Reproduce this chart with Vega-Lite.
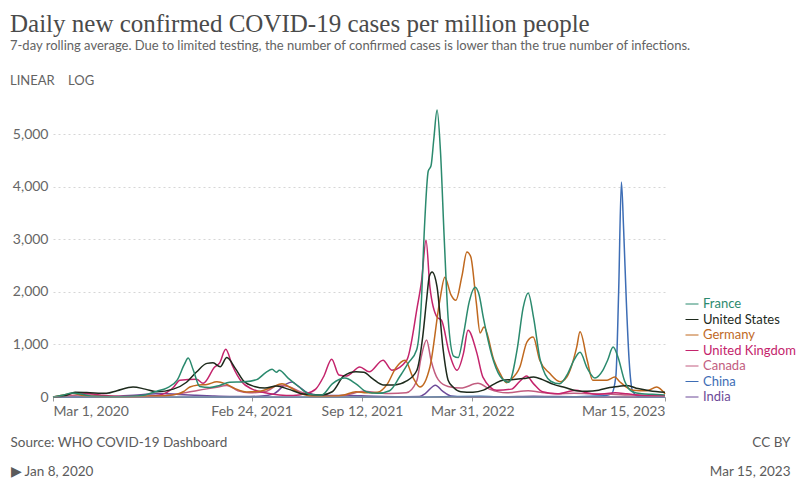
{
  "$schema": "https://vega.github.io/schema/vega-lite/v6.json",
  "width": 612,
  "height": 289,
  "autosize": "none",
  "padding": {"left": 53, "top": 108, "right": 135, "bottom": 88},
  "background": "white",
  "config": {"view": {"stroke": null}, "font": "Lato"},
  "title": {
    "text": "Daily new confirmed COVID-19 cases per million people",
    "subtitle": ["7-day rolling average. Due to limited testing, the number of confirmed cases is lower than the true number of infections.", "\u00a0\u00a0LINEAR\u00a0\u00a0\u00a0\u00a0LOG"],
    "anchor": "start",
    "frame": "group",
    "dx": -43,
    "offset": 19,
    "font": "Liberation Serif",
    "fontSize": 25,
    "fontWeight": "normal",
    "color": "#4a4a4a",
    "subtitleFont": "Lato",
    "subtitleFontSize": 13,
    "subtitleColor": "#636363",
    "subtitlePadding": 3,
    "subtitleLineHeight": 35
  },
  "data": {"values": [
    {"country":"India","date":"2020-03-01","cases":0},{"country":"India","date":"2020-05-01","cases":1},{"country":"India","date":"2020-06-15","cases":8},{"country":"India","date":"2020-08-01","cases":38},{"country":"India","date":"2020-09-16","cases":68},{"country":"India","date":"2020-10-15","cases":48},{"country":"India","date":"2020-11-15","cases":32},{"country":"India","date":"2020-12-15","cases":20},{"country":"India","date":"2021-01-15","cases":11},{"country":"India","date":"2021-02-10","cases":9},{"country":"India","date":"2021-03-10","cases":15},{"country":"India","date":"2021-04-05","cases":60},{"country":"India","date":"2021-04-25","cases":230},{"country":"India","date":"2021-05-08","cases":285},{"country":"India","date":"2021-05-20","cases":200},{"country":"India","date":"2021-06-05","cases":80},{"country":"India","date":"2021-06-25","cases":35},{"country":"India","date":"2021-07-20","cases":28},{"country":"India","date":"2021-08-20","cases":28},{"country":"India","date":"2021-09-20","cases":20},{"country":"India","date":"2021-10-20","cases":11},{"country":"India","date":"2021-12-01","cases":6},{"country":"India","date":"2021-12-25","cases":8},{"country":"India","date":"2022-01-05","cases":70},{"country":"India","date":"2022-01-23","cases":225},{"country":"India","date":"2022-02-05","cases":110},{"country":"India","date":"2022-02-20","cases":20},{"country":"India","date":"2022-03-15","cases":3},{"country":"India","date":"2022-05-01","cases":2},{"country":"India","date":"2022-06-01","cases":5},{"country":"India","date":"2022-07-20","cases":14},{"country":"India","date":"2022-08-20","cases":9},{"country":"India","date":"2022-10-01","cases":3},{"country":"India","date":"2022-12-01","cases":0.3},{"country":"India","date":"2023-03-15","cases":0.5},
    {"country":"China","date":"2020-03-01","cases":0.4},{"country":"China","date":"2020-04-01","cases":0.1},{"country":"China","date":"2020-07-01","cases":0.05},{"country":"China","date":"2021-01-15","cases":0.1},{"country":"China","date":"2021-08-05","cases":0.1},{"country":"China","date":"2022-01-01","cases":0.2},{"country":"China","date":"2022-04-15","cases":15},{"country":"China","date":"2022-05-15","cases":2},{"country":"China","date":"2022-08-15","cases":2},{"country":"China","date":"2022-11-25","cases":25},{"country":"China","date":"2022-12-08","cases":60},{"country":"China","date":"2022-12-16","cases":400},{"country":"China","date":"2022-12-21","cases":2000},{"country":"China","date":"2022-12-26","cases":4090},{"country":"China","date":"2022-12-30","cases":3200},{"country":"China","date":"2023-01-04","cases":1800},{"country":"China","date":"2023-01-09","cases":700},{"country":"China","date":"2023-01-15","cases":120},{"country":"China","date":"2023-01-25","cases":15},{"country":"China","date":"2023-02-15","cases":3},{"country":"China","date":"2023-03-15","cases":1},
    {"country":"Canada","date":"2020-03-01","cases":0},{"country":"Canada","date":"2020-04-01","cases":25},{"country":"Canada","date":"2020-04-25","cases":45},{"country":"Canada","date":"2020-05-20","cases":30},{"country":"Canada","date":"2020-06-20","cases":10},{"country":"Canada","date":"2020-08-01","cases":10},{"country":"Canada","date":"2020-09-15","cases":20},{"country":"Canada","date":"2020-10-15","cases":60},{"country":"Canada","date":"2020-11-20","cases":130},{"country":"Canada","date":"2020-12-20","cases":180},{"country":"Canada","date":"2021-01-10","cases":220},{"country":"Canada","date":"2021-01-30","cases":120},{"country":"Canada","date":"2021-02-20","cases":80},{"country":"Canada","date":"2021-03-20","cases":100},{"country":"Canada","date":"2021-04-15","cases":230},{"country":"Canada","date":"2021-05-01","cases":200},{"country":"Canada","date":"2021-05-25","cases":90},{"country":"Canada","date":"2021-06-20","cases":25},{"country":"Canada","date":"2021-07-15","cases":12},{"country":"Canada","date":"2021-08-15","cases":40},{"country":"Canada","date":"2021-09-15","cases":110},{"country":"Canada","date":"2021-10-10","cases":80},{"country":"Canada","date":"2021-11-01","cases":65},{"country":"Canada","date":"2021-12-01","cases":80},{"country":"Canada","date":"2021-12-20","cases":300},{"country":"Canada","date":"2021-12-28","cases":750},{"country":"Canada","date":"2022-01-07","cases":1085},{"country":"Canada","date":"2022-01-15","cases":700},{"country":"Canada","date":"2022-01-28","cases":330},{"country":"Canada","date":"2022-02-15","cases":200},{"country":"Canada","date":"2022-03-10","cases":170},{"country":"Canada","date":"2022-04-10","cases":260},{"country":"Canada","date":"2022-05-01","cases":150},{"country":"Canada","date":"2022-06-01","cases":80},{"country":"Canada","date":"2022-07-10","cases":120},{"country":"Canada","date":"2022-08-01","cases":90},{"country":"Canada","date":"2022-09-01","cases":60},{"country":"Canada","date":"2022-10-01","cases":70},{"country":"Canada","date":"2022-11-01","cases":60},{"country":"Canada","date":"2022-12-01","cases":55},{"country":"Canada","date":"2023-01-01","cases":40},{"country":"Canada","date":"2023-02-01","cases":35},{"country":"Canada","date":"2023-03-15","cases":25},
    {"country":"United Kingdom","date":"2020-03-01","cases":0},{"country":"United Kingdom","date":"2020-03-25","cases":40},{"country":"United Kingdom","date":"2020-04-10","cases":75},{"country":"United Kingdom","date":"2020-05-01","cases":70},{"country":"United Kingdom","date":"2020-05-25","cases":40},{"country":"United Kingdom","date":"2020-06-20","cases":15},{"country":"United Kingdom","date":"2020-07-20","cases":10},{"country":"United Kingdom","date":"2020-08-20","cases":15},{"country":"United Kingdom","date":"2020-09-15","cases":50},{"country":"United Kingdom","date":"2020-10-05","cases":180},{"country":"United Kingdom","date":"2020-10-17","cases":320},{"country":"United Kingdom","date":"2020-11-16","cases":340},{"country":"United Kingdom","date":"2020-11-28","cases":260},{"country":"United Kingdom","date":"2020-12-19","cases":570},{"country":"United Kingdom","date":"2020-12-28","cases":650},{"country":"United Kingdom","date":"2021-01-08","cases":910},{"country":"United Kingdom","date":"2021-01-20","cases":600},{"country":"United Kingdom","date":"2021-02-05","cases":300},{"country":"United Kingdom","date":"2021-02-25","cases":150},{"country":"United Kingdom","date":"2021-03-20","cases":80},{"country":"United Kingdom","date":"2021-04-15","cases":40},{"country":"United Kingdom","date":"2021-05-10","cases":30},{"country":"United Kingdom","date":"2021-06-01","cases":60},{"country":"United Kingdom","date":"2021-06-20","cases":150},{"country":"United Kingdom","date":"2021-07-05","cases":400},{"country":"United Kingdom","date":"2021-07-19","cases":720},{"country":"United Kingdom","date":"2021-08-01","cases":420},{"country":"United Kingdom","date":"2021-08-15","cases":400},{"country":"United Kingdom","date":"2021-09-08","cases":570},{"country":"United Kingdom","date":"2021-09-25","cases":480},{"country":"United Kingdom","date":"2021-10-20","cases":700},{"country":"United Kingdom","date":"2021-11-05","cases":510},{"country":"United Kingdom","date":"2021-12-02","cases":700},{"country":"United Kingdom","date":"2021-12-21","cases":1710},{"country":"United Kingdom","date":"2021-12-29","cases":2220},{"country":"United Kingdom","date":"2022-01-06","cases":2985},{"country":"United Kingdom","date":"2022-01-13","cases":2090},{"country":"United Kingdom","date":"2022-01-26","cases":1520},{"country":"United Kingdom","date":"2022-02-03","cases":1460},{"country":"United Kingdom","date":"2022-02-17","cases":840},{"country":"United Kingdom","date":"2022-03-03","cases":510},{"country":"United Kingdom","date":"2022-03-15","cases":840},{"country":"United Kingdom","date":"2022-03-23","cases":1270},{"country":"United Kingdom","date":"2022-04-08","cases":840},{"country":"United Kingdom","date":"2022-04-19","cases":380},{"country":"United Kingdom","date":"2022-05-14","cases":130},{"country":"United Kingdom","date":"2022-06-10","cases":150},{"country":"United Kingdom","date":"2022-06-25","cases":300},{"country":"United Kingdom","date":"2022-07-07","cases":400},{"country":"United Kingdom","date":"2022-07-20","cases":250},{"country":"United Kingdom","date":"2022-08-05","cases":100},{"country":"United Kingdom","date":"2022-09-01","cases":60},{"country":"United Kingdom","date":"2022-10-05","cases":130},{"country":"United Kingdom","date":"2022-10-20","cases":90},{"country":"United Kingdom","date":"2022-11-15","cases":50},{"country":"United Kingdom","date":"2022-12-15","cases":80},{"country":"United Kingdom","date":"2023-01-05","cases":60},{"country":"United Kingdom","date":"2023-02-01","cases":30},{"country":"United Kingdom","date":"2023-03-15","cases":20},
    {"country":"Germany","date":"2020-03-01","cases":0},{"country":"Germany","date":"2020-03-25","cases":50},{"country":"Germany","date":"2020-04-05","cases":70},{"country":"Germany","date":"2020-04-25","cases":25},{"country":"Germany","date":"2020-05-20","cases":8},{"country":"Germany","date":"2020-07-01","cases":5},{"country":"Germany","date":"2020-08-15","cases":15},{"country":"Germany","date":"2020-09-20","cases":25},{"country":"Germany","date":"2020-10-10","cases":50},{"country":"Germany","date":"2020-10-23","cases":100},{"country":"Germany","date":"2020-11-04","cases":190},{"country":"Germany","date":"2020-11-20","cases":230},{"country":"Germany","date":"2020-12-05","cases":240},{"country":"Germany","date":"2020-12-23","cases":290},{"country":"Germany","date":"2021-01-08","cases":250},{"country":"Germany","date":"2021-01-25","cases":160},{"country":"Germany","date":"2021-02-15","cases":95},{"country":"Germany","date":"2021-03-10","cases":110},{"country":"Germany","date":"2021-04-01","cases":180},{"country":"Germany","date":"2021-04-20","cases":250},{"country":"Germany","date":"2021-05-05","cases":180},{"country":"Germany","date":"2021-05-25","cases":60},{"country":"Germany","date":"2021-06-20","cases":8},{"country":"Germany","date":"2021-07-15","cases":12},{"country":"Germany","date":"2021-08-10","cases":40},{"country":"Germany","date":"2021-09-01","cases":100},{"country":"Germany","date":"2021-09-20","cases":80},{"country":"Germany","date":"2021-10-10","cases":90},{"country":"Germany","date":"2021-10-28","cases":250},{"country":"Germany","date":"2021-11-12","cases":550},{"country":"Germany","date":"2021-11-29","cases":700},{"country":"Germany","date":"2021-12-13","cases":380},{"country":"Germany","date":"2021-12-26","cases":190},{"country":"Germany","date":"2022-01-13","cases":570},{"country":"Germany","date":"2022-01-31","cases":1840},{"country":"Germany","date":"2022-02-09","cases":2280},{"country":"Germany","date":"2022-02-20","cases":1950},{"country":"Germany","date":"2022-03-01","cases":1840},{"country":"Germany","date":"2022-03-12","cases":2300},{"country":"Germany","date":"2022-03-21","cases":2760},{"country":"Germany","date":"2022-03-28","cases":2670},{"country":"Germany","date":"2022-04-07","cases":1800},{"country":"Germany","date":"2022-04-14","cases":1220},{"country":"Germany","date":"2022-04-21","cases":1330},{"country":"Germany","date":"2022-05-09","cases":700},{"country":"Germany","date":"2022-05-20","cases":450},{"country":"Germany","date":"2022-06-01","cases":270},{"country":"Germany","date":"2022-06-07","cases":320},{"country":"Germany","date":"2022-06-25","cases":570},{"country":"Germany","date":"2022-07-08","cases":1050},{"country":"Germany","date":"2022-07-19","cases":1140},{"country":"Germany","date":"2022-07-31","cases":700},{"country":"Germany","date":"2022-08-18","cases":450},{"country":"Germany","date":"2022-09-06","cases":290},{"country":"Germany","date":"2022-09-18","cases":380},{"country":"Germany","date":"2022-10-06","cases":950},{"country":"Germany","date":"2022-10-12","cases":1240},{"country":"Germany","date":"2022-10-25","cases":700},{"country":"Germany","date":"2022-11-04","cases":320},{"country":"Germany","date":"2022-11-30","cases":320},{"country":"Germany","date":"2022-12-14","cases":380},{"country":"Germany","date":"2022-12-23","cases":290},{"country":"Germany","date":"2023-01-16","cases":130},{"country":"Germany","date":"2023-02-10","cases":120},{"country":"Germany","date":"2023-02-28","cases":190},{"country":"Germany","date":"2023-03-15","cases":60},
    {"country":"United States","date":"2020-03-01","cases":0},{"country":"United States","date":"2020-03-25","cases":30},{"country":"United States","date":"2020-04-10","cases":90},{"country":"United States","date":"2020-05-01","cases":85},{"country":"United States","date":"2020-06-06","cases":70},{"country":"United States","date":"2020-06-25","cases":120},{"country":"United States","date":"2020-07-24","cases":190},{"country":"United States","date":"2020-08-15","cases":150},{"country":"United States","date":"2020-09-05","cases":100},{"country":"United States","date":"2020-10-05","cases":150},{"country":"United States","date":"2020-10-29","cases":280},{"country":"United States","date":"2020-11-16","cases":475},{"country":"United States","date":"2020-12-05","cases":640},{"country":"United States","date":"2020-12-16","cases":650},{"country":"United States","date":"2020-12-29","cases":575},{"country":"United States","date":"2021-01-10","cases":750},{"country":"United States","date":"2021-01-25","cases":550},{"country":"United States","date":"2021-02-10","cases":300},{"country":"United States","date":"2021-03-01","cases":200},{"country":"United States","date":"2021-03-20","cases":170},{"country":"United States","date":"2021-04-10","cases":210},{"country":"United States","date":"2021-05-01","cases":150},{"country":"United States","date":"2021-06-01","cases":50},{"country":"United States","date":"2021-07-01","cases":40},{"country":"United States","date":"2021-07-20","cases":100},{"country":"United States","date":"2021-08-10","cases":400},{"country":"United States","date":"2021-09-01","cases":480},{"country":"United States","date":"2021-09-15","cases":470},{"country":"United States","date":"2021-10-01","cases":350},{"country":"United States","date":"2021-10-20","cases":230},{"country":"United States","date":"2021-11-10","cases":230},{"country":"United States","date":"2021-12-01","cases":300},{"country":"United States","date":"2021-12-20","cases":500},{"country":"United States","date":"2021-12-31","cases":1150},{"country":"United States","date":"2022-01-07","cases":1850},{"country":"United States","date":"2022-01-12","cases":2300},{"country":"United States","date":"2022-01-17","cases":2380},{"country":"United States","date":"2022-01-26","cases":2090},{"country":"United States","date":"2022-02-06","cases":900},{"country":"United States","date":"2022-02-15","cases":320},{"country":"United States","date":"2022-02-24","cases":190},{"country":"United States","date":"2022-03-10","cases":100},{"country":"United States","date":"2022-04-01","cases":90},{"country":"United States","date":"2022-04-20","cases":130},{"country":"United States","date":"2022-05-10","cases":250},{"country":"United States","date":"2022-05-25","cases":320},{"country":"United States","date":"2022-06-10","cases":330},{"country":"United States","date":"2022-07-01","cases":350},{"country":"United States","date":"2022-07-20","cases":380},{"country":"United States","date":"2022-08-05","cases":330},{"country":"United States","date":"2022-08-25","cases":240},{"country":"United States","date":"2022-09-15","cases":180},{"country":"United States","date":"2022-10-05","cases":120},{"country":"United States","date":"2022-10-25","cases":110},{"country":"United States","date":"2022-11-15","cases":130},{"country":"United States","date":"2022-12-05","cases":180},{"country":"United States","date":"2022-12-20","cases":200},{"country":"United States","date":"2023-01-05","cases":220},{"country":"United States","date":"2023-01-25","cases":160},{"country":"United States","date":"2023-02-15","cases":120},{"country":"United States","date":"2023-03-15","cases":90},
    {"country":"France","date":"2020-03-01","cases":1},{"country":"France","date":"2020-03-20","cases":40},{"country":"France","date":"2020-04-05","cases":75},{"country":"France","date":"2020-04-20","cases":55},{"country":"France","date":"2020-05-10","cases":15},{"country":"France","date":"2020-06-15","cases":6},{"country":"France","date":"2020-07-15","cases":10},{"country":"France","date":"2020-08-15","cases":40},{"country":"France","date":"2020-09-05","cases":110},{"country":"France","date":"2020-09-23","cases":170},{"country":"France","date":"2020-10-12","cases":320},{"country":"France","date":"2020-10-25","cases":620},{"country":"France","date":"2020-11-01","cases":740},{"country":"France","date":"2020-11-10","cases":520},{"country":"France","date":"2020-11-22","cases":200},{"country":"France","date":"2020-12-10","cases":180},{"country":"France","date":"2020-12-28","cases":220},{"country":"France","date":"2021-01-15","cases":280},{"country":"France","date":"2021-02-10","cases":290},{"country":"France","date":"2021-03-05","cases":330},{"country":"France","date":"2021-03-22","cases":470},{"country":"France","date":"2021-04-02","cases":530},{"country":"France","date":"2021-04-10","cases":470},{"country":"France","date":"2021-04-15","cases":510},{"country":"France","date":"2021-05-01","cases":360},{"country":"France","date":"2021-05-20","cases":200},{"country":"France","date":"2021-06-10","cases":50},{"country":"France","date":"2021-07-01","cases":40},{"country":"France","date":"2021-07-20","cases":250},{"country":"France","date":"2021-08-12","cases":360},{"country":"France","date":"2021-09-01","cases":250},{"country":"France","date":"2021-09-20","cases":100},{"country":"France","date":"2021-10-10","cases":70},{"country":"France","date":"2021-11-01","cases":120},{"country":"France","date":"2021-11-20","cases":400},{"country":"France","date":"2021-12-05","cases":650},{"country":"France","date":"2021-12-20","cases":900},{"country":"France","date":"2021-12-28","cases":1700},{"country":"France","date":"2022-01-03","cases":3200},{"country":"France","date":"2022-01-10","cases":4300},{"country":"France","date":"2022-01-15","cases":4400},{"country":"France","date":"2022-01-20","cases":4900},{"country":"France","date":"2022-01-26","cases":5460},{"country":"France","date":"2022-02-01","cases":4700},{"country":"France","date":"2022-02-08","cases":3000},{"country":"France","date":"2022-02-15","cases":1500},{"country":"France","date":"2022-02-25","cases":780},{"country":"France","date":"2022-03-05","cases":750},{"country":"France","date":"2022-03-15","cases":1200},{"country":"France","date":"2022-03-25","cases":1800},{"country":"France","date":"2022-04-05","cases":2090},{"country":"France","date":"2022-04-12","cases":1950},{"country":"France","date":"2022-04-20","cases":1500},{"country":"France","date":"2022-05-05","cases":800},{"country":"France","date":"2022-05-20","cases":400},{"country":"France","date":"2022-06-05","cases":280},{"country":"France","date":"2022-06-20","cases":900},{"country":"France","date":"2022-07-01","cases":1700},{"country":"France","date":"2022-07-10","cases":1980},{"country":"France","date":"2022-07-20","cases":1500},{"country":"France","date":"2022-08-01","cases":700},{"country":"France","date":"2022-08-20","cases":300},{"country":"France","date":"2022-09-05","cases":250},{"country":"France","date":"2022-09-20","cases":450},{"country":"France","date":"2022-10-01","cases":700},{"country":"France","date":"2022-10-12","cases":850},{"country":"France","date":"2022-10-25","cases":550},{"country":"France","date":"2022-11-08","cases":360},{"country":"France","date":"2022-11-22","cases":500},{"country":"France","date":"2022-12-01","cases":700},{"country":"France","date":"2022-12-11","cases":950},{"country":"France","date":"2022-12-20","cases":750},{"country":"France","date":"2023-01-01","cases":300},{"country":"France","date":"2023-01-15","cases":100},{"country":"France","date":"2023-02-01","cases":60},{"country":"France","date":"2023-02-20","cases":50},{"country":"France","date":"2023-03-15","cases":40}
  ]},
  "resolve": {"axis": {"y": "independent"}},
  "layer": [
    {
      "mark": {"type": "line", "strokeWidth": 1.5, "interpolate": "monotone"},
      "encoding": {
        "x": {
          "field": "date", "type": "temporal",
          "scale": {"type": "utc", "domain": [{"year": 2020, "month": 3, "date": 1, "utc": true}, {"year": 2023, "month": 3, "date": 15, "utc": true}]},
          "axis": {
            "values": [{"year": 2020, "month": 3, "date": 1, "utc": true}, {"year": 2021, "month": 2, "date": 24, "utc": true}, {"year": 2021, "month": 9, "date": 12, "utc": true}, {"year": 2022, "month": 3, "date": 31, "utc": true}, {"year": 2023, "month": 3, "date": 15, "utc": true}],
            "format": "%b %-d, %Y",
            "labelFlush": true,
            "grid": false,
            "domainColor": "#9a9a9a",
            "tickColor": "#9a9a9a",
            "tickSize": 4,
            "labelFont": "Lato",
            "labelFontSize": 14,
            "labelColor": "#666666",
            "labelPadding": 3,
            "title": ["Source: WHO COVID-19 Dashboard", "▶  Jan 8, 2020"],
            "titleAnchor": "start",
            "titleAlign": "left",
            "titleX": -43,
            "titleY": 38,
            "titleBaseline": "top",
            "titleFont": "Lato",
            "titleFontSize": 13.5,
            "titleFontWeight": "normal",
            "titleColor": "#5b5b5b",
            "titleLineHeight": 29
          }
        },
        "y": {
          "field": "cases", "type": "quantitative",
          "scale": {"domain": [0, 5500], "nice": false},
          "axis": {
            "values": [0, 1000, 2000, 3000, 4000, 5000],
            "format": ",.0f",
            "domain": false,
            "ticks": false,
            "grid": true,
            "gridColor": "#d6d6d6",
            "gridDash": [2, 3],
            "labelFont": "Lato",
            "labelFontSize": 14,
            "labelColor": "#666666",
            "labelPadding": 5,
            "title": null
          }
        },
        "color": {
          "field": "country", "type": "nominal",
          "scale": {
            "domain": ["France", "United States", "Germany", "United Kingdom", "Canada", "China", "India"],
            "range": ["#2b8a6e", "#1d2a1c", "#c0691f", "#c4246c", "#c25d80", "#3d6db5", "#6d4a98"]
          },
          "legend": {
            "orient": "none",
            "legendX": 632,
            "legendY": 189,
            "title": null,
            "padding": 0,
            "symbolType": "stroke",
            "symbolSize": 169,
            "symbolStrokeWidth": 1,
            "symbolStrokeColor": "#bbbbbb",
            "labelFont": "Lato",
            "labelFontSize": 13,
            "labelOffset": 4,
            "rowPadding": 1.5,
            "encode": {
              "labels": {"update": {"fill": {"scale": "color", "field": "value"}}},
              "symbols": {"update": {"stroke": {"value": "#bbbbbb"}}}
            }
          }
        }
      }
    },
    {
      "data": {"values": [{"baseline": 0}]},
      "mark": {"type": "rule", "color": "#9a9a9a", "strokeWidth": 1},
      "encoding": {
        "y": {
          "field": "baseline", "type": "quantitative",
          "axis": {
            "orient": "right",
            "labels": false,
            "ticks": false,
            "domain": false,
            "grid": false,
            "title": ["CC BY", "Mar 15, 2023"],
            "titleAngle": 0,
            "titleAlign": "right",
            "titleX": 125,
            "titleY": 327,
            "titleBaseline": "top",
            "titleFont": "Lato",
            "titleFontSize": 13.5,
            "titleFontWeight": "normal",
            "titleColor": "#5b5b5b",
            "titleLineHeight": 29
          }
        }
      }
    }
  ]
}
